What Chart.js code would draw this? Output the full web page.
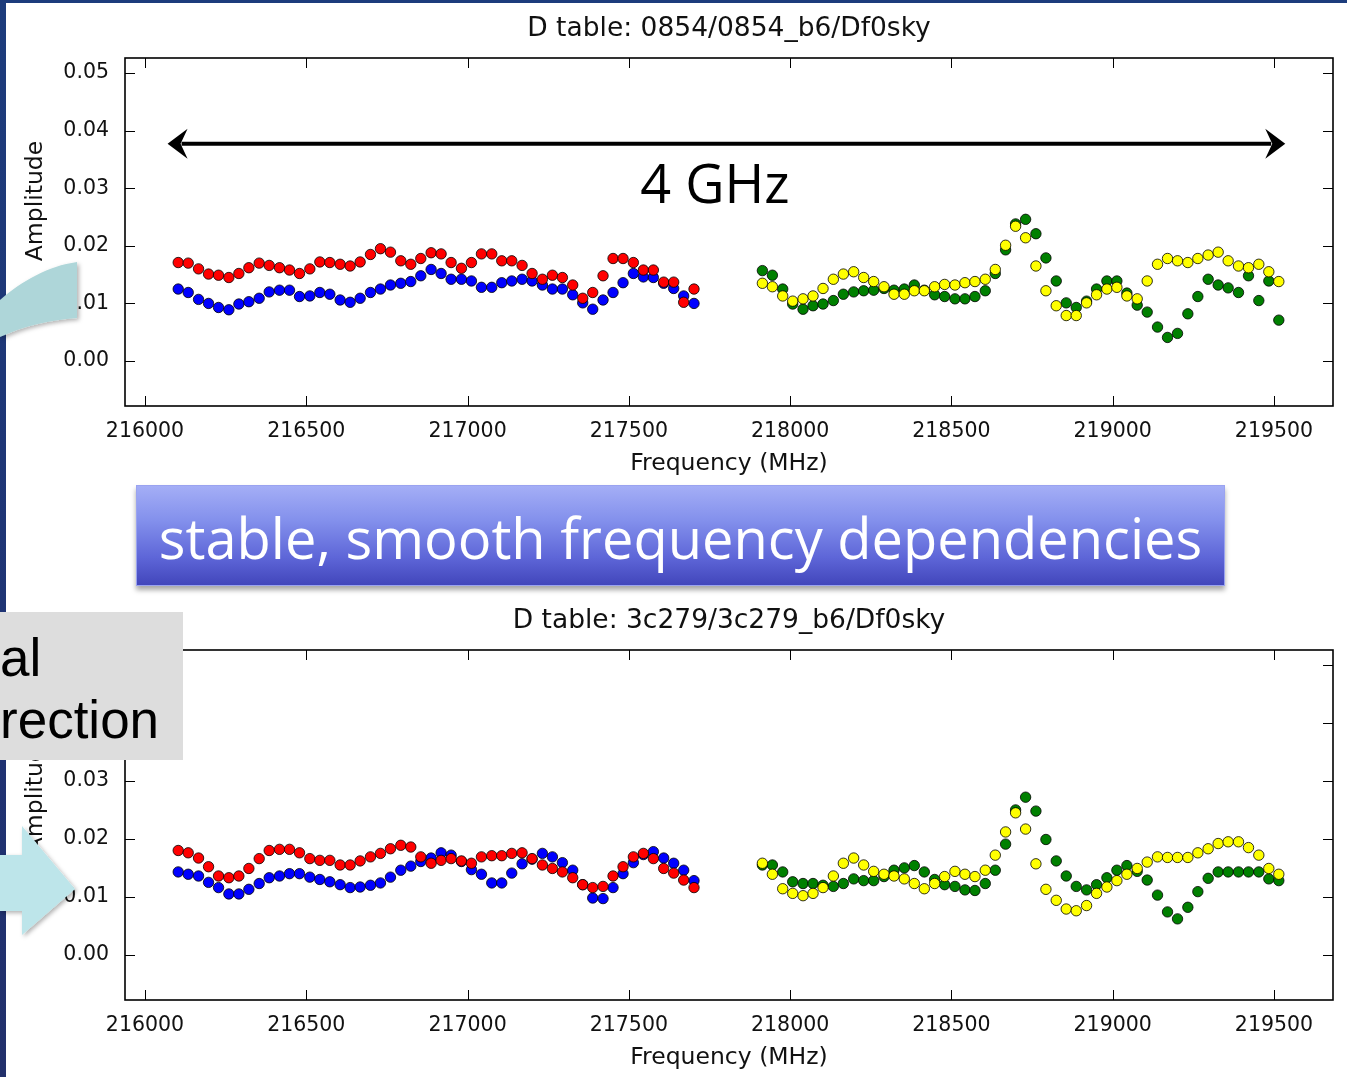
<!DOCTYPE html>
<html>
<head>
<meta charset="utf-8">
<script src="https://cdn.jsdelivr.net/npm/chart.js@4.4.0/dist/chart.umd.min.js"></script>
<style>
  body { margin: 0; width: 1347px; height: 1077px; position: relative; overflow: hidden; background: #fff; }
  #slide-left { position: absolute; left: 0; top: 0; width: 6px; height: 1077px; background: linear-gradient(#1d3c7c, #1f3272 70%, #22306b); }
  #slide-top { position: absolute; left: 0; top: 0; width: 1347px; height: 3px; background: #1d3c7c; }
  canvas { position: absolute; left: 0; }
  #chart-top { top: 0; }
  #chart-bottom { top: 592px; }
  #banner {
    position: absolute; left: 136px; top: 485px; width: 1087px; height: 95px;
    background: linear-gradient(to bottom, #a4aef6 0%, #8390ec 35%, #5e66d8 72%, #4246bb 100%);
    border: 1px solid #9aa3f0;
    box-shadow: 0 4px 5px rgba(0, 0, 0, 0.35);
    color: #fff; font-family: "Open Sans", sans-serif; font-size: 56px;
    line-height: 95px; text-align: center; padding-top: 4px; box-sizing: content-box;
  }
  #note {
    position: absolute; left: 0; top: 612px; width: 183px; height: 133px; padding-top: 15px;
    background: #dddddd; color: #000; font-family: "Liberation Sans", Arial, sans-serif;
    font-size: 53px; line-height: 62px; white-space: nowrap; overflow: hidden;
  }
  #deco { position: absolute; left: 0; top: 0; }
</style>
</head>
<body>
<div id="slide-left"></div>
<div id="slide-top"></div>
<canvas id="chart-top" width="1347" height="480"></canvas>
<canvas id="chart-bottom" width="1347" height="482"></canvas>
<div id="banner">stable, smooth frequency dependencies</div>
<svg id="deco" width="1347" height="1077">
  <defs>
    <filter id="soft" x="-20%" y="-20%" width="140%" height="140%">
      <feDropShadow dx="2" dy="2" stdDeviation="2" flood-color="#000" flood-opacity="0.3"/>
    </filter>
  </defs>
  <path d="M0,300 C22,281 48,266 77,262 L77,318 C48,320 22,327 0,337 Z" fill="#aed6d9" filter="url(#soft)"/>
  <path d="M0,855 L22,855 L22,826 L75,889 L22,935 L22,911 L0,911 Z" fill="#bde5ea" filter="url(#soft)"/>
</svg>
<div id="note">al<br>rection</div>

<script>
// frequency channels (MHz)
const freqLow = [216103, 216134, 216166, 216197, 216228, 216260, 216291, 216322, 216354, 216385,
  216417, 216448, 216479, 216511, 216542, 216573, 216605, 216636, 216667, 216699,
  216730, 216761, 216793, 216824, 216855, 216887, 216918, 216949, 216981, 217012,
  217043, 217075, 217106, 217137, 217169, 217200, 217232, 217263, 217294, 217326,
  217357, 217388, 217420, 217451, 217482, 217514, 217545, 217576, 217608, 217639,
  217670, 217702];
const freqHigh = [217914, 217945, 217977, 218008, 218040, 218071, 218102, 218134, 218165, 218197,
  218228, 218259, 218291, 218322, 218354, 218385, 218416, 218448, 218479, 218511,
  218542, 218573, 218605, 218636, 218668, 218699, 218730, 218762, 218793, 218825,
  218856, 218887, 218919, 218950, 218982, 219013, 219044, 219076, 219107, 219139,
  219170, 219201, 219233, 219264, 219296, 219327, 219358, 219390, 219421, 219453,
  219484, 219515];

// D table 0854
const redTop = [0.0171, 0.0170, 0.0160, 0.0151, 0.0149, 0.0145, 0.0152, 0.0162, 0.0170, 0.0166,
  0.0162, 0.0158, 0.0152, 0.0160, 0.0172, 0.0171, 0.0168, 0.0165, 0.0172, 0.0185,
  0.0195, 0.0189, 0.0174, 0.0168, 0.0178, 0.0188, 0.0186, 0.0171, 0.0161, 0.0171,
  0.0186, 0.0186, 0.0174, 0.0174, 0.0166, 0.0152, 0.0142, 0.0149, 0.0145, 0.0132,
  0.0109, 0.0119, 0.0148, 0.0178, 0.0178, 0.0171, 0.0158, 0.0158, 0.0137, 0.0137,
  0.0102, 0.0125];
const blueTop = [0.0125, 0.0119, 0.0107, 0.0100, 0.0093, 0.0089, 0.0099, 0.0103, 0.0109, 0.0120,
  0.0123, 0.0123, 0.0112, 0.0113, 0.0119, 0.0116, 0.0106, 0.0102, 0.0109, 0.0119,
  0.0125, 0.0132, 0.0135, 0.0138, 0.0148, 0.0159, 0.0152, 0.0142, 0.0142, 0.0139,
  0.0128, 0.0128, 0.0136, 0.0139, 0.0142, 0.0139, 0.0132, 0.0125, 0.0125, 0.0115,
  0.0101, 0.0090, 0.0106, 0.0119, 0.0136, 0.0152, 0.0146, 0.0145, 0.0135, 0.0126,
  0.0113, 0.0100];
const yellowTop = [0.0135, 0.0129, 0.0113, 0.0104, 0.0108, 0.0113, 0.0126, 0.0142, 0.0151, 0.0155,
  0.0145, 0.0138, 0.0129, 0.0116, 0.0116, 0.0122, 0.0122, 0.0129, 0.0133, 0.0132,
  0.0136, 0.0138, 0.0142, 0.0159, 0.0201, 0.0234, 0.0214, 0.0165, 0.0122, 0.0096,
  0.0079, 0.0079, 0.0101, 0.0115, 0.0125, 0.0128, 0.0113, 0.0108, 0.0139, 0.0168,
  0.0178, 0.0174, 0.0171, 0.0178, 0.0184, 0.0189, 0.0174, 0.0165, 0.0162, 0.0168,
  0.0155, 0.0138];
const greenTop = [0.0157, 0.0149, 0.0125, 0.0099, 0.0090, 0.0096, 0.0099, 0.0105, 0.0116, 0.0120,
  0.0122, 0.0123, 0.0126, 0.0123, 0.0125, 0.0132, 0.0123, 0.0115, 0.0112, 0.0108,
  0.0108, 0.0112, 0.0122, 0.0152, 0.0193, 0.0238, 0.0246, 0.0221, 0.0179, 0.0139,
  0.0101, 0.0093, 0.0104, 0.0125, 0.0139, 0.0139, 0.0118, 0.0097, 0.0085, 0.0059,
  0.0041, 0.0048, 0.0082, 0.0112, 0.0142, 0.0132, 0.0127, 0.0119, 0.0148, 0.0105,
  0.0139, 0.0071];

// D table 3c279
const redBot = [0.0180, 0.0176, 0.0167, 0.0152, 0.0136, 0.0133, 0.0136, 0.0149, 0.0166, 0.0180,
  0.0182, 0.0182, 0.0176, 0.0166, 0.0163, 0.0163, 0.0155, 0.0155, 0.0162, 0.0169,
  0.0175, 0.0183, 0.0189, 0.0186, 0.0169, 0.0158, 0.0163, 0.0166, 0.0162, 0.0158,
  0.0169, 0.0171, 0.0171, 0.0175, 0.0176, 0.0166, 0.0155, 0.0149, 0.0143, 0.0133,
  0.0121, 0.0116, 0.0118, 0.0136, 0.0152, 0.0169, 0.0175, 0.0166, 0.0149, 0.0141,
  0.0129, 0.0116];
const blueBot = [0.0143, 0.0139, 0.0136, 0.0125, 0.0116, 0.0105, 0.0105, 0.0113, 0.0123, 0.0133,
  0.0136, 0.0140, 0.0140, 0.0134, 0.0130, 0.0126, 0.0121, 0.0116, 0.0117, 0.0120,
  0.0124, 0.0134, 0.0146, 0.0153, 0.0161, 0.0167, 0.0176, 0.0172, 0.0161, 0.0147,
  0.0139, 0.0124, 0.0124, 0.0141, 0.0157, 0.0165, 0.0175, 0.0169, 0.0159, 0.0146,
  0.0121, 0.0098, 0.0097, 0.0116, 0.0140, 0.0159, 0.0173, 0.0178, 0.0167, 0.0158,
  0.0146, 0.0128];
const yellowBot = [0.0158, 0.0139, 0.0114, 0.0106, 0.0102, 0.0106, 0.0116, 0.0136, 0.0158, 0.0167,
  0.0155, 0.0144, 0.0139, 0.0136, 0.0131, 0.0123, 0.0114, 0.0123, 0.0135, 0.0144,
  0.0139, 0.0135, 0.0146, 0.0172, 0.0212, 0.0245, 0.0217, 0.0157, 0.0113, 0.0094,
  0.0079, 0.0076, 0.0085, 0.0106, 0.0117, 0.0128, 0.0139, 0.0149, 0.0160, 0.0169,
  0.0168, 0.0168, 0.0168, 0.0176, 0.0183, 0.0192, 0.0195, 0.0195, 0.0185, 0.0172,
  0.0149, 0.0139];
const greenBot = [0.0155, 0.0155, 0.0143, 0.0126, 0.0123, 0.0123, 0.0120, 0.0118, 0.0123, 0.0131,
  0.0128, 0.0128, 0.0135, 0.0146, 0.0150, 0.0154, 0.0143, 0.0130, 0.0121, 0.0118,
  0.0112, 0.0111, 0.0123, 0.0146, 0.0191, 0.0250, 0.0272, 0.0248, 0.0199, 0.0162,
  0.0136, 0.0118, 0.0112, 0.0121, 0.0133, 0.0146, 0.0154, 0.0144, 0.0129, 0.0103,
  0.0074, 0.0062, 0.0082, 0.0109, 0.0132, 0.0143, 0.0143, 0.0143, 0.0143, 0.0143,
  0.0131, 0.0128];

const xTicks = [216000, 216500, 217000, 217500, 218000, 218500, 219000, 219500];
const yTicks = [0, 0.01, 0.02, 0.03, 0.04, 0.05];
const xRange = [215938, 219683];
const yRange = [-0.0078, 0.0526];

// "4 GHz" span annotation on the first plot, in data units
const spanFrom = 216070;
const spanTo = 219535;
const spanLevel = 0.0377;
const spanLabel = '4 GHz';
const spanLabelAt = [217767, 0.0274];

Chart.defaults.font.family = '"DejaVu Sans", sans-serif';
Chart.defaults.color = '#111';

// matplotlib-style frame with inward ticks on all four sides
const frameTicks = {
  id: 'frameTicks',
  afterDatasetsDraw(chart) {
    const { ctx, chartArea: a, scales: { x, y } } = chart;
    ctx.save();
    ctx.strokeStyle = '#000';
    ctx.lineWidth = 1;
    ctx.beginPath();
    xTicks.forEach(v => {
      const px = Math.round(x.getPixelForValue(v)) + 0.5;
      ctx.moveTo(px, a.bottom); ctx.lineTo(px, a.bottom - 10);
      ctx.moveTo(px, a.top); ctx.lineTo(px, a.top + 10);
    });
    yTicks.forEach(v => {
      const py = Math.round(y.getPixelForValue(v)) + 0.5;
      ctx.moveTo(a.left, py); ctx.lineTo(a.left + 10, py);
      ctx.moveTo(a.right, py); ctx.lineTo(a.right - 10, py);
    });
    ctx.stroke();
    ctx.lineWidth = 1.6;
    ctx.strokeRect(a.left, a.top, a.right - a.left, a.bottom - a.top);
    ctx.restore();
  }
};

// title centred over the axes box, not the whole canvas
const plotTitle = {
  id: 'plotTitle',
  afterDraw(chart, args, opts) {
    const { ctx, chartArea: a } = chart;
    ctx.save();
    ctx.font = '26.5px "DejaVu Sans"';
    ctx.fillStyle = '#111';
    ctx.textAlign = 'center';
    ctx.textBaseline = 'middle';
    ctx.fillText(opts.text, (a.left + a.right) / 2, 29);
    ctx.restore();
  }
};

// y axis title sits a bit above the middle of the axis, as in the source
const ampLabel = {
  id: 'ampLabel',
  afterDraw(chart) {
    const { ctx, chartArea: a } = chart;
    ctx.save();
    ctx.translate(42, a.top + 143);
    ctx.rotate(-Math.PI / 2);
    ctx.font = '23.5px "DejaVu Sans"';
    ctx.fillStyle = '#111';
    ctx.textAlign = 'center';
    ctx.textBaseline = 'alphabetic';
    ctx.fillText('Amplitude', 0, 0);
    ctx.restore();
  }
};

function arrowHead(ctx, tipX, tipY, dir) {
  ctx.beginPath();
  ctx.moveTo(tipX, tipY);
  ctx.lineTo(tipX + dir * 20, tipY - 15);
  ctx.lineTo(tipX + dir * 13, tipY);
  ctx.lineTo(tipX + dir * 20, tipY + 15);
  ctx.closePath();
  ctx.fill();
}

const spanArrow = {
  id: 'spanArrow',
  afterDatasetsDraw(chart) {
    const { ctx, scales: { x, y } } = chart;
    const x1 = x.getPixelForValue(spanFrom);
    const x2 = x.getPixelForValue(spanTo);
    const py = y.getPixelForValue(spanLevel);
    ctx.save();
    ctx.strokeStyle = '#000';
    ctx.fillStyle = '#000';
    ctx.lineWidth = 4;
    ctx.beginPath();
    ctx.moveTo(x1 + 14, py);
    ctx.lineTo(x2 - 14, py);
    ctx.stroke();
    arrowHead(ctx, x1, py, 1);
    arrowHead(ctx, x2, py, -1);
    ctx.font = '54px "Open Sans"';
    ctx.textAlign = 'center';
    ctx.textBaseline = 'alphabetic';
    ctx.fillText(spanLabel, x.getPixelForValue(spanLabelAt[0]), y.getPixelForValue(spanLabelAt[1]));
    ctx.restore();
  }
};

function series(freqs, vals, color) {
  return {
    data: freqs.map((f, i) => ({ x: f, y: vals[i] })),
    pointBackgroundColor: color,
    pointBorderColor: 'rgba(0,0,0,0.8)',
    pointBorderWidth: 1,
    pointRadius: 5.2,
    showLine: false,
  };
}

function makeChart(id, title, sets, extra) {
  return new Chart(document.getElementById(id), {
    type: 'scatter',
    data: { datasets: sets },
    options: {
      responsive: false,
      animation: false,
      events: [],
      layout: { padding: { left: 0, right: 14, top: 58, bottom: 0 } },
      plugins: {
        legend: { display: false },
        tooltip: { enabled: false },
        title: { display: false },
        plotTitle: { text: title },
      },
      scales: {
        x: {
          type: 'linear',
          min: xRange[0],
          max: xRange[1],
          grid: { display: false, drawTicks: false },
          border: { display: false },
          afterBuildTicks: s => { s.ticks = xTicks.map(v => ({ value: v })); },
          afterFit: s => { s.height = 74; },
          ticks: {
            autoSkip: false,
            maxRotation: 0,
            padding: 13,
            font: { size: 20.5 },
            callback: v => String(v),
          },
          title: {
            display: true,
            text: 'Frequency (MHz)',
            font: { size: 23.5 },
            padding: { top: 0, bottom: 2 },
          },
        },
        y: {
          min: yRange[0],
          max: yRange[1],
          grid: { display: false, drawTicks: false },
          border: { display: false },
          afterBuildTicks: s => { s.ticks = yTicks.map(v => ({ value: v })); },
          afterFit: s => { s.width = 125; },
          ticks: {
            padding: 16,
            font: { size: 20.5 },
            callback: v => v.toFixed(2),
          },
        },
      },
    },
    plugins: [frameTicks, plotTitle, ampLabel].concat(extra),
  });
}

// first dataset is drawn on top
makeChart('chart-top', 'D table: 0854/0854_b6/Df0sky', [
  series(freqLow, redTop, '#ff0000'),
  series(freqLow, blueTop, '#0000ff'),
  series(freqHigh, yellowTop, '#ffff00'),
  series(freqHigh, greenTop, '#008000'),
], [spanArrow]);

makeChart('chart-bottom', 'D table: 3c279/3c279_b6/Df0sky', [
  series(freqLow, redBot, '#ff0000'),
  series(freqLow, blueBot, '#0000ff'),
  series(freqHigh, yellowBot, '#ffff00'),
  series(freqHigh, greenBot, '#008000'),
], []);
</script>
</body>
</html>
